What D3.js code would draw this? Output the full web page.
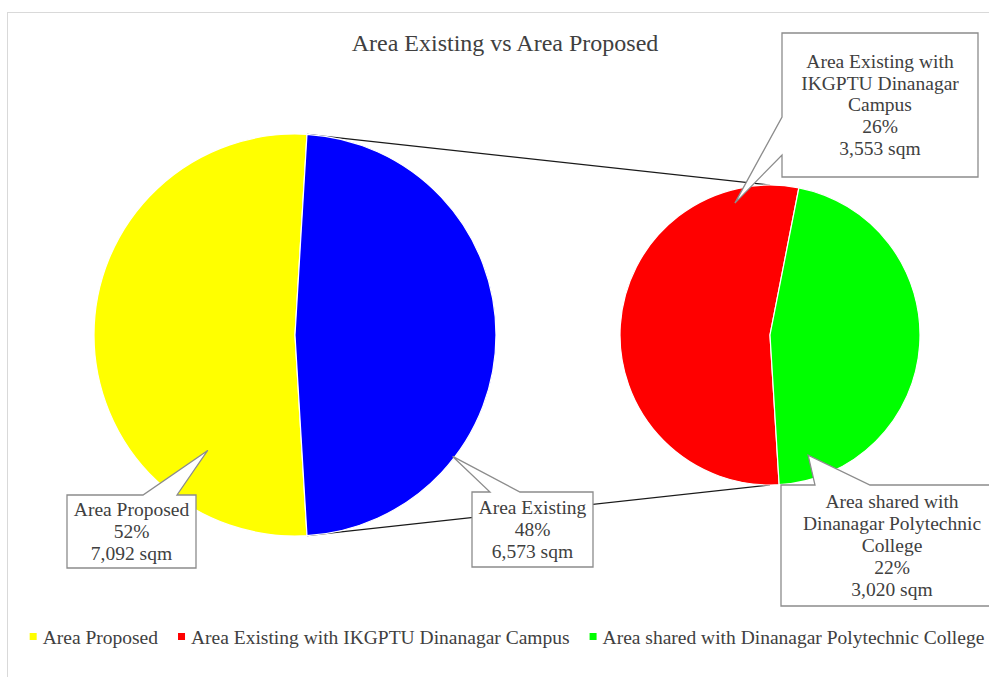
<!DOCTYPE html>
<html>
<head>
<meta charset="utf-8">
<script src="https://cdn.jsdelivr.net/npm/d3@7"></script>
<style>
  html, body { margin: 0; padding: 0; background: #fff; }
  svg { display: block; }
  text { font-family: "Liberation Serif", "Times New Roman", serif; fill: #404040; }
</style>
</head>
<body>
<svg id="chart" width="989" height="677"></svg>
<script>
// Primary pie: proposed area vs. the aggregated existing area
const primaryLabels = ["Area Proposed", "Area Existing"];
const primaryValues = [7092, 6573];
const primaryColors = ["#ffff00", "#0000ff"];

// Secondary pie: break-down of the existing area
const secondaryLabels = ["Area Existing with IKGPTU Dinanagar Campus", "Area shared with Dinanagar Polytechnic College"];
const secondaryValues = [3553, 3020];
const secondaryColors = ["#ff0000", "#00ff00"];

// Wrapped names used inside the callouts
const primaryCalloutNames = [["Area Proposed"], ["Area Existing"]];
const secondaryCalloutNames = [["Area Existing with", "IKGPTU Dinanagar", "Campus"], ["Area shared with", "Dinanagar Polytechnic", "College"]];

const title = "Area Existing vs Area Proposed";

const svg = d3.select("#chart");
const FONT = 19.5;
const LH = 21.8;

const total = d3.sum(primaryValues);
const pct = d3.format(".0%");
const num = d3.format(",");
const rad = d => d * Math.PI / 180;

// chart frame
svg.append("rect")
  .attr("x", 7.5).attr("y", 12.5).attr("width", 1000).attr("height", 700)
  .attr("fill", "#fff").attr("stroke", "#d9d9d9").attr("stroke-width", 1);

// title
svg.append("text")
  .attr("x", 505).attr("y", 51)
  .attr("text-anchor", "middle")
  .style("font-size", "24px")
  .text(title);

// geometry of both pies
const P = { cx: 295, cy: 335, r: 201 };
const S = { cx: 770, cy: 335, r: 150 };

// the aggregated slice is centred on the right-hand side of the primary pie
const otherAngle = 2 * Math.PI * primaryValues[1] / total;
const primaryStart = Math.PI / 2 + otherAngle / 2;
const primaryPie = d3.pie().sort(null).value(d => d)
  .startAngle(primaryStart).endAngle(primaryStart + 2 * Math.PI);
const primaryArcs = primaryPie(primaryValues);

const secondaryStart = rad(176.5);
const secondaryPie = d3.pie().sort(null).value(d => d)
  .startAngle(secondaryStart).endAngle(secondaryStart + 2 * Math.PI);
const secondaryArcs = secondaryPie(secondaryValues);

const polar = (c, a, rr) => [c.cx + rr * Math.sin(a), c.cy - rr * Math.cos(a)];

// series lines joining the aggregated slice to the secondary pie
const otherTop = polar(P, Math.PI / 2 - otherAngle / 2, P.r);
const otherBottom = polar(P, Math.PI / 2 + otherAngle / 2, P.r);
const lineG = svg.append("g").attr("stroke", "#1a1a1a").attr("stroke-width", 1.2);
lineG.append("line")
  .attr("x1", otherTop[0]).attr("y1", otherTop[1])
  .attr("x2", S.cx).attr("y2", S.cy - S.r);
lineG.append("line")
  .attr("x1", otherBottom[0]).attr("y1", otherBottom[1])
  .attr("x2", S.cx).attr("y2", S.cy + S.r);

// pies
const pArc = d3.arc().innerRadius(0).outerRadius(P.r);
svg.append("g").attr("transform", `translate(${P.cx},${P.cy})`)
  .selectAll("path").data(primaryArcs).join("path")
  .attr("d", pArc)
  .attr("fill", (d, i) => primaryColors[i])
  .attr("stroke", "#fff").attr("stroke-width", 1.2);

const sArc = d3.arc().innerRadius(0).outerRadius(S.r);
svg.append("g").attr("transform", `translate(${S.cx},${S.cy})`)
  .selectAll("path").data(secondaryArcs).join("path")
  .attr("d", sArc)
  .attr("fill", (d, i) => secondaryColors[i])
  .attr("stroke", "#fff").attr("stroke-width", 1.2);

// callouts: box, pointer base on one edge, tip given in polar form on its pie
const callouts = [
  { pie: P, lines: [...primaryCalloutNames[0], pct(primaryValues[0] / total), num(primaryValues[0]) + " sqm"],
    box: [67, 495, 196, 568], edge: "top", base: [143, 177], tip: [-142.9, 0.72] },
  { pie: P, lines: [...primaryCalloutNames[1], pct(primaryValues[1] / total), num(primaryValues[1]) + " sqm"],
    box: [472, 492, 593, 567], edge: "top", base: [490, 520], tip: [127.6, 0.99] },
  { pie: S, lines: [...secondaryCalloutNames[0], pct(secondaryValues[0] / total), num(secondaryValues[0]) + " sqm"],
    box: [782, 33, 978, 177], edge: "left", base: [117, 155], tip: [-14.9, 0.91] },
  { pie: S, lines: [...secondaryCalloutNames[1], pct(secondaryValues[1] / total), num(secondaryValues[1]) + " sqm"],
    box: [781, 485, 1003, 606], edge: "top", base: [815, 870], tip: [162.4, 0.84] }
];

callouts.forEach(c => {
  const [x0, y0, x1, y1] = c.box;
  const t = polar(c.pie, rad(c.tip[0]), c.tip[1] * c.pie.r);
  let pts;
  if (c.edge === "top") {
    pts = [[x0, y0], [c.base[0], y0], t, [c.base[1], y0], [x1, y0], [x1, y1], [x0, y1]];
  } else {
    pts = [[x0, y0], [x1, y0], [x1, y1], [x0, y1], [x0, c.base[1]], t, [x0, c.base[0]]];
  }
  svg.append("path")
    .attr("d", d3.line()(pts) + "Z")
    .attr("fill", "#fff").attr("stroke", "#8c8c8c").attr("stroke-width", 1.3);
  const cxm = (x0 + x1) / 2, cym = (y0 + y1) / 2;
  const n = c.lines.length;
  c.lines.forEach((s, i) => {
    svg.append("text")
      .attr("x", cxm)
      .attr("y", cym + (i - (n - 1) / 2) * LH + FONT * 0.33)
      .attr("text-anchor", "middle")
      .style("font-size", FONT + "px")
      .text(s);
  });
});

// legend (the aggregated slice is not listed)
const legendItems = [
  { label: primaryLabels[0], color: primaryColors[0] },
  { label: secondaryLabels[0], color: secondaryColors[0] },
  { label: secondaryLabels[1], color: secondaryColors[1] }
];
const legend = svg.append("g");
const GAP = 20, TEXT_OFF = 13;
let lx = 0;
legendItems.forEach(it => {
  const g = legend.append("g").attr("transform", `translate(${lx},0)`);
  g.append("rect").attr("x", 0).attr("y", -4).attr("width", 7).attr("height", 7).attr("fill", it.color);
  const tx = g.append("text").attr("x", TEXT_OFF).attr("y", 6.5)
    .style("font-size", FONT + "px").text(it.label);
  lx += TEXT_OFF + tx.node().getComputedTextLength() + GAP;
});
const legendWidth = lx - GAP;
legend.attr("transform", `translate(${507 - legendWidth / 2},637)`);
</script>
</body>
</html>
